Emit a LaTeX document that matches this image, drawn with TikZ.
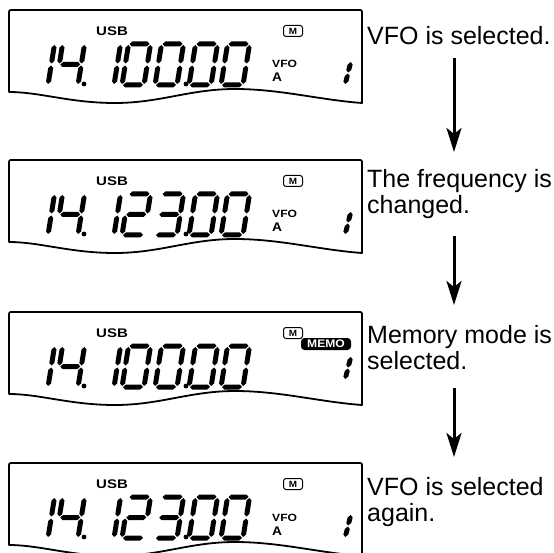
\documentclass[tikz,border=0pt]{standalone}
\usepackage{fontspec}
\setmainfont{Liberation Sans}
\usetikzlibrary{arrows.meta}
% LCD segments (local coordinates, y grows downward)
\newcommand{\sgt}{2.5}
\newcommand{\sgH}[3]{\fill (#1,#3) -- ({#1+\sgt},{#3-\sgt}) -- ({#2-\sgt},{#3-\sgt}) -- (#2,#3) -- ({#2-\sgt},{#3+\sgt}) -- ({#1+\sgt},{#3+\sgt}) -- cycle;}
\newcommand{\sgV}[3]{\fill (#1,#2) -- ({#1+\sgt},{#2+\sgt}) -- ({#1+\sgt},{#3-\sgt}) -- (#1,#3) -- ({#1-\sgt},{#3-\sgt}) -- ({#1-\sgt},{#2+\sgt}) -- cycle;}
\newcommand{\segmenta}{\sgH{1}{21}{-41}}
\newcommand{\segmentb}{\sgV{22}{-40}{-21.5}}
\newcommand{\segmentc}{\sgV{22}{-19.5}{-1}}
\newcommand{\segmentd}{\sgH{1}{21}{0}}
\newcommand{\segmente}{\sgV{0}{-19.5}{-1}}
\newcommand{\segmentf}{\sgV{0}{-40}{-21.5}}
\newcommand{\segmentg}{\sgH{1}{21}{-20.5}}
\newcommand{\lcdd}[3]{\begin{scope}[shift={(#1,#2)},xslant=0.16]\foreach \s in {#3}{\csname segment\s\endcsname}\end{scope}}
% #1 = top y, #2 = id, #3/#4 = segments of the 2nd and 3rd kHz digits, #5 = bottom of the small "1"
\newcommand{\lcdframe}[5]{%
 \begin{scope}[yshift=-#1pt]
  \draw[panel] (9,82) -- (9,4) .. controls (9,0) .. (13,0) -- (358,0) .. controls (362,0) .. (362,4) -- (362,93)
     .. controls (320,90) and (280,79) .. (235,79) .. controls (190,79) and (160,93) .. (115,93)
     .. controls (70,93) and (40,82) .. (9,82) -- cycle;
  \node[lcdlabel] (usb#2) at (96,25.5) {\scalebox{1.2}[1]{USB}};
  \node[micon] (m#2) at (293,21) {\scalebox{1.1}[1]{M}};
  \lcdd{26}{75}{b,c}
  \lcdd{56}{75}{b,c,f,g}
  \fill (84,74) circle (2.4);
  \lcdd{92}{75}{b,c}
  \lcdd{122}{75}{#3}
  \lcdd{155}{75}{#4}
  \fill (186,74) circle (2.4);
  \lcdd{189}{75}{a,b,c,d,e,f}
  \lcdd{221}{75}{a,b,c,d,e,f}
  \begin{scope}[shift={(345,#5)},xslant=0.25]
   \sgV{0}{-23}{-12.5}
   \sgV{0}{-11.5}{-1}
  \end{scope}
 \end{scope}}
\newcommand{\vfoa}[2]{%
 \begin{scope}[yshift=-#1pt]
  \node[lcdlabel,font=\bfseries\fontsize{10.5}{10.5}\selectfont] (vfo#2) at (272,58) {\scalebox{1.15}[1]{VFO}};
  \node[lcdlabel,font=\bfseries\fontsize{12.5}{12.5}\selectfont] (vfoa#2) at (272,72) {\scalebox{1.1}[1]{A}};
 \end{scope}}
\begin{document}
\begin{tikzpicture}[x=1pt,y=-1pt,
  panel/.style={line width=1.8pt,line join=round},
  lcdlabel/.style={font=\bfseries\fontsize{12.5}{12.5}\selectfont,inner sep=0,anchor=base west},
  micon/.style={draw,line width=1pt,rounded corners=2.5pt,inner sep=0,minimum width=19pt,minimum height=11pt,font=\bfseries\fontsize{9}{9}\selectfont},
  memo/.style={fill=black,text=white,rounded corners=3.5pt,inner sep=0,minimum width=50pt,minimum height=12pt,font=\bfseries\fontsize{11}{11}\selectfont},
  note/.style={font=\fontsize{25}{26}\selectfont,anchor=base west,inner sep=0},
  flow/.style={line width=3pt,-{Stealth[length=24pt,width=15pt,inset=6pt]}}]
\useasboundingbox (0,0) rectangle (554,553);
\fill[white] (0,0) rectangle (554,553);

\lcdframe{10}{1}{a,b,c,d,e,f}{a,b,c,d,e,f}{75}
\vfoa{10}{1}
\lcdframe{160}{2}{a,b,g,e,d}{a,b,g,c,d}{75}
\vfoa{160}{2}
\lcdframe{312}{3}{a,b,c,d,e,f}{a,b,c,d,e,f}{68}
\node[memo] (memo3) at (326,344) {\scalebox{1.1}[1]{MEMO}};
\lcdframe{463}{4}{a,b,g,e,d}{a,b,g,c,d}{75}
\vfoa{463}{4}

\node[note] (t1) at (367,45) {VFO is selected.};
\node[note] (t2a) at (367,188) {The frequency is};
\node[note] (t2b) at (367,214) {changed.};
\node[note] (t3a) at (367,343) {Memory mode is};
\node[note] (t3b) at (367,369) {selected.};
\node[note] (t4a) at (367,495) {VFO is selected};
\node[note] (t4b) at (367,521) {again.};

\coordinate (a1s) at (454,58);  \coordinate (a1e) at (454,152);
\coordinate (a2s) at (454,236); \coordinate (a2e) at (454,305);
\coordinate (a3s) at (454,388); \coordinate (a3e) at (454,457);
\draw[flow] (a1s) -- (a1e);
\draw[flow] (a2s) -- (a2e);
\draw[flow] (a3s) -- (a3e);
\end{tikzpicture}
\end{document}
